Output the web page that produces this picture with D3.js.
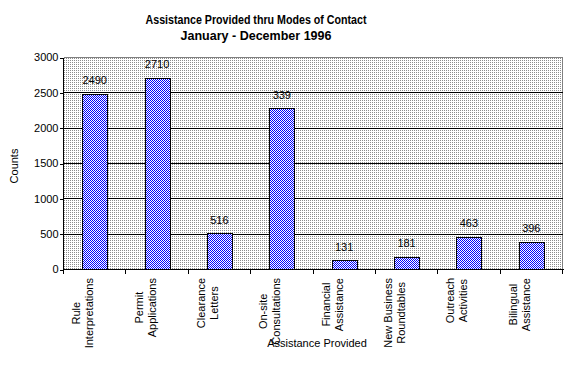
<!DOCTYPE html>
<html>
<head>
<meta charset="utf-8">
<script src="https://cdn.jsdelivr.net/npm/d3@7"></script>
<style>
  html, body { margin: 0; padding: 0; background: #fff; }
  svg { display: block; }
  text { font-family: Arial, "Liberation Sans", sans-serif; fill: #000; }
</style>
</head>
<body>
<script>
const categories = [
  ["Rule", "Interpretations"],
  ["Permit", "Applications"],
  ["Clearance", "Letters"],
  ["On-site", "Consultations"],
  ["Financial", "Assistance"],
  ["New Business", "Roundtables"],
  ["Outreach", "Activities"],
  ["Bilingual", "Assistance"]
];
const values = [2490, 2710, 516, 2285, 131, 181, 463, 396];
const valueLabels = ["2490", "2710", "516", "339", "131", "181", "463", "396"];
const yTicks = [0, 500, 1000, 1500, 2000, 2500, 3000];
const titleLines = ["Assistance Provided thru Modes of Contact", "January - December 1996"];
const xTitle = "Assistance Provided";
const yTitle = "Counts";

const W = 576, H = 371;
const pLeft = 63.5, pRight = 562.5, pTop = 57.5, pBottom = 269.5;

const svg = d3.select("body").append("svg").attr("width", W).attr("height", H);
const defs = svg.append("defs");

const bg = defs.append("pattern").attr("id", "dots").attr("patternUnits", "userSpaceOnUse")
  .attr("width", 2).attr("height", 2);
bg.append("rect").attr("width", 2).attr("height", 2).attr("fill", "#ffffff");
bg.append("rect").attr("x", 0).attr("y", 0).attr("width", 1).attr("height", 1).attr("fill", "#8c8c8c");

const chk = defs.append("pattern").attr("id", "check").attr("patternUnits", "userSpaceOnUse")
  .attr("width", 2).attr("height", 2);
chk.append("rect").attr("width", 2).attr("height", 2).attr("fill", "#ffffff");
chk.append("rect").attr("x", 0).attr("y", 0).attr("width", 1).attr("height", 1).attr("fill", "#0000ff");
chk.append("rect").attr("x", 1).attr("y", 1).attr("width", 1).attr("height", 1).attr("fill", "#0000ff");

const x = d3.scaleBand().domain(d3.range(categories.length)).range([pLeft, pRight]).padding(0);
const y = d3.scaleLinear().domain([0, 3000]).range([pBottom, pTop]);

// plot background
svg.append("rect").attr("x", pLeft).attr("y", pTop).attr("width", pRight - pLeft).attr("height", pBottom - pTop)
  .attr("fill", "url(#dots)").attr("shape-rendering", "crispEdges");
// top and right border gray
svg.append("path").attr("d", `M${pLeft},${pTop}H${pRight}V${pBottom}`).attr("fill", "none")
  .attr("stroke", "#808080").attr("stroke-width", 1).attr("shape-rendering", "crispEdges");

// gridlines
svg.append("g").selectAll("line").data(yTicks.filter(t => t > 0 && t < 3000)).join("line")
  .attr("x1", pLeft).attr("x2", pRight).attr("y1", d => y(d)).attr("y2", d => y(d))
  .attr("stroke", "#000").attr("shape-rendering", "crispEdges");

// bars
const bw = Math.round(x.bandwidth() * 0.4);
svg.append("g").selectAll("rect").data(values).join("rect")
  .attr("x", (d, i) => Math.round(x(i) + (x.bandwidth() - bw) / 2) + 0.5)
  .attr("y", d => Math.round(y(d)) + 0.5)
  .attr("width", bw)
  .attr("height", d => pBottom - (Math.round(y(d)) + 0.5))
  .attr("fill", "url(#check)").attr("stroke", "#000").attr("stroke-width", 1)
  .attr("shape-rendering", "crispEdges");

// value labels
svg.append("g").selectAll("text").data(values).join("text")
  .attr("x", (d, i) => x(i) + x.bandwidth() / 2)
  .attr("y", d => y(d) - 9.5)
  .attr("text-anchor", "middle").attr("font-size", 11)
  .text((d, i) => valueLabels[i]);

// y axis
const yAxis = d3.axisLeft(y).tickValues(yTicks).tickSize(4).tickFormat(d3.format("d"));
const ga = svg.append("g").attr("transform", `translate(${pLeft},0)`).call(yAxis);
ga.select(".domain").attr("d", `M-0,${pTop}V${pBottom}`).attr("stroke", "#000").attr("shape-rendering", "crispEdges");
ga.selectAll(".tick line").attr("stroke", "#000").attr("shape-rendering", "crispEdges");
ga.selectAll(".tick text").attr("font-size", 11).attr("font-family", "Arial, 'Liberation Sans', sans-serif")
  .attr("fill", "#000").attr("x", -5).attr("dy", "0.3em");

// x axis line and ticks
const xa = svg.append("g");
xa.append("line").attr("x1", pLeft).attr("x2", pRight + 1).attr("y1", pBottom).attr("y2", pBottom)
  .attr("stroke", "#000").attr("shape-rendering", "crispEdges");
xa.selectAll("line.tk").data(d3.range(categories.length + 1)).join("line").attr("class", "tk")
  .attr("x1", i => pLeft + i * x.bandwidth()).attr("x2", i => pLeft + i * x.bandwidth())
  .attr("y1", pBottom).attr("y2", pBottom + 4)
  .attr("stroke", "#000").attr("shape-rendering", "crispEdges");

// category labels (rotated)
const catFont = 11;
const topY = 278;
categories.forEach((lines, i) => {
  const cx = x(i) + x.bandwidth() / 2;
  const g = svg.append("g").attr("transform", `translate(${cx},${topY}) rotate(-90)`);
  const texts = lines.map((s, j) => g.append("text")
    .attr("font-size", catFont).attr("text-anchor", "middle")
    .attr("y", j === 0 ? -14.5 : -1.5).text(s));
  const maxW = d3.max(texts, t => t.node().getComputedTextLength());
  texts.forEach(t => t.attr("x", -maxW / 2));
});

// axis titles
svg.append("text").attr("x", 317).attr("y", 347).attr("text-anchor", "middle").attr("font-size", 11).text(xTitle);
svg.append("text").attr("transform", "translate(18,166) rotate(-90)").attr("text-anchor", "middle")
  .attr("font-size", 11).text(yTitle);

// title
const tw = [221, 151];
titleLines.forEach((s, j) => {
  svg.append("text").attr("x", 256).attr("y", j === 0 ? 24 : 39.5).attr("text-anchor", "middle")
    .attr("font-size", 12).attr("font-weight", "bold")
    .attr("font-family", "'Liberation Sans Narrow', 'Arial Narrow', Arial, sans-serif")
    .attr("textLength", tw[j]).attr("lengthAdjust", "spacingAndGlyphs")
    .text(s);
});
</script>
</body>
</html>
